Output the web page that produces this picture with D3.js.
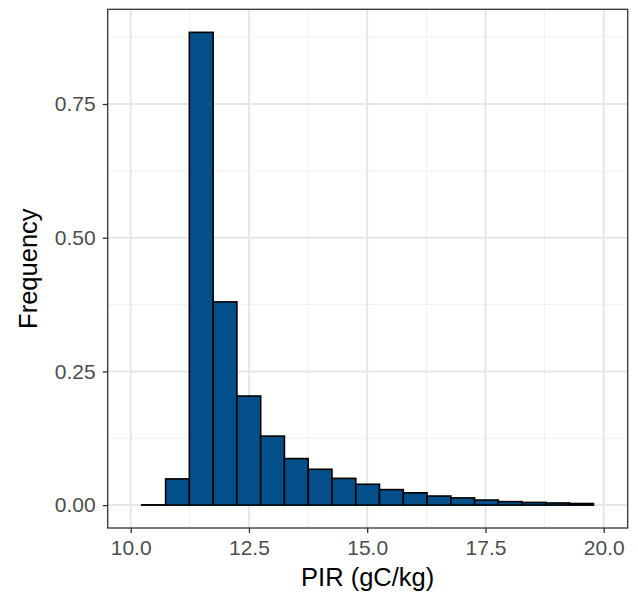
<!DOCTYPE html>
<html>
<head>
<meta charset="utf-8">
<script src="https://cdn.jsdelivr.net/npm/d3@7"></script>
<style>
  body { margin: 0; background: #fff; }
  svg { display: block; font-family: "Liberation Sans", Arial, sans-serif; }
</style>
</head>
<body>
<div id="svgWrapper"></div>
<script>
// bin lower edges (PIR, gC/kg) and frequencies
var binStarts = [10.235, 10.738, 11.240, 11.743, 12.245, 12.748, 13.250, 13.753, 14.255, 14.758,
                 15.260, 15.763, 16.265, 16.768, 17.270, 17.773, 18.275, 18.778, 19.280];
var binEnds   = [10.738, 11.240, 11.743, 12.245, 12.748, 13.250, 13.753, 14.255, 14.758, 15.260,
                 15.763, 16.265, 16.768, 17.270, 17.773, 18.275, 18.778, 19.280, 19.783];
var freqs     = [0.0005, 0.049, 0.884, 0.380, 0.204, 0.129, 0.087, 0.067, 0.050, 0.039,
                 0.029, 0.023, 0.017, 0.0135, 0.0095, 0.0065, 0.005, 0.004, 0.003];
var xTicks = [10, 12.5, 15, 17.5, 20];
var xMinor = [11.25, 13.75, 16.25, 18.75];
var yTicks = [0, 0.25, 0.5, 0.75];
var yMinor = [0.125, 0.375, 0.625, 0.875];

var fullWidth = 638, fullHeight = 594;
var pLeft = 107.7, pRight = 627.7, pTop = 9.3, pBottom = 528;

var svg = d3.select("#svgWrapper")
  .append("svg")
  .attr("width", fullWidth)
  .attr("height", fullHeight);

var xScale = d3.scaleLinear().domain([9.514, 20.507]).range([pLeft, pRight]);
var yScale = d3.scaleLinear().domain([-0.0428, 0.9271]).range([pBottom, pTop]);

var panel = svg.append("g");
panel.append("rect")
  .attr("x", pLeft).attr("y", pTop)
  .attr("width", pRight - pLeft).attr("height", pBottom - pTop)
  .attr("fill", "white");

// minor grid
panel.selectAll("line.xminor").data(xMinor).enter().append("line")
  .attr("class", "xminor")
  .attr("x1", d => xScale(d)).attr("x2", d => xScale(d))
  .attr("y1", pTop).attr("y2", pBottom)
  .attr("stroke", "#f0f0f0").attr("stroke-width", 1);
panel.selectAll("line.yminor").data(yMinor).enter().append("line")
  .attr("class", "yminor")
  .attr("y1", d => yScale(d)).attr("y2", d => yScale(d))
  .attr("x1", pLeft).attr("x2", pRight)
  .attr("stroke", "#f0f0f0").attr("stroke-width", 1);
// major grid
panel.selectAll("line.xmajor").data(xTicks).enter().append("line")
  .attr("class", "xmajor")
  .attr("x1", d => xScale(d)).attr("x2", d => xScale(d))
  .attr("y1", pTop).attr("y2", pBottom)
  .attr("stroke", "#e6e6e6").attr("stroke-width", 2);
panel.selectAll("line.ymajor").data(yTicks).enter().append("line")
  .attr("class", "ymajor")
  .attr("y1", d => yScale(d)).attr("y2", d => yScale(d))
  .attr("x1", pLeft).attr("x2", pRight)
  .attr("stroke", "#e6e6e6").attr("stroke-width", 2);

// bars
var bins = freqs.map(function(f, i) { return { x0: binStarts[i], x1: binEnds[i], y: f }; });
panel.selectAll("rect.bar").data(bins).enter().append("rect")
  .attr("class", "bar")
  .attr("x", d => xScale(d.x0))
  .attr("width", d => xScale(d.x1) - xScale(d.x0))
  .attr("y", d => yScale(d.y))
  .attr("height", d => yScale(0) - yScale(d.y))
  .attr("fill", "#024f8a")
  .attr("stroke", "black")
  .attr("stroke-width", 1.6);

// panel border
panel.append("rect")
  .attr("x", pLeft).attr("y", pTop)
  .attr("width", pRight - pLeft).attr("height", pBottom - pTop)
  .attr("fill", "none").attr("stroke", "#333333").attr("stroke-width", 1.3);

// axes
var xAxis = svg.append("g")
  .attr("transform", "translate(0," + pBottom + ")")
  .call(d3.axisBottom(xScale).tickValues(xTicks).tickFormat(d3.format(".1f")).tickSizeInner(5).tickSizeOuter(0));
var yAxis = svg.append("g")
  .attr("transform", "translate(" + pLeft + ",0)")
  .call(d3.axisLeft(yScale).tickValues(yTicks).tickFormat(d3.format(".2f")).tickSizeInner(5).tickSizeOuter(0));

[xAxis, yAxis].forEach(function(ax) {
  ax.select(".domain").remove();
  ax.selectAll(".tick line").attr("stroke", "#333333").attr("stroke-width", 1.3);
  ax.selectAll(".tick text")
    .attr("fill", "#4d4d4d")
    .style("font-size", "21px")
    .style("font-family", "Liberation Sans, Arial, sans-serif");
});
xAxis.selectAll(".tick text").attr("dy", "0").attr("y", 27);
yAxis.selectAll(".tick text").attr("x", -12);

// axis titles
svg.append("text")
  .attr("x", (pLeft + pRight) / 2)
  .attr("y", 586)
  .style("text-anchor", "middle")
  .style("font-size", "25.5px")
  .style("fill", "black")
  .text("PIR (gC/kg)");

svg.append("text")
  .attr("transform", "translate(37," + ((pTop + pBottom) / 2) + ") rotate(-90)")
  .style("text-anchor", "middle")
  .style("font-size", "25.5px")
  .style("fill", "black")
  .text("Frequency");
</script>
</body>
</html>
